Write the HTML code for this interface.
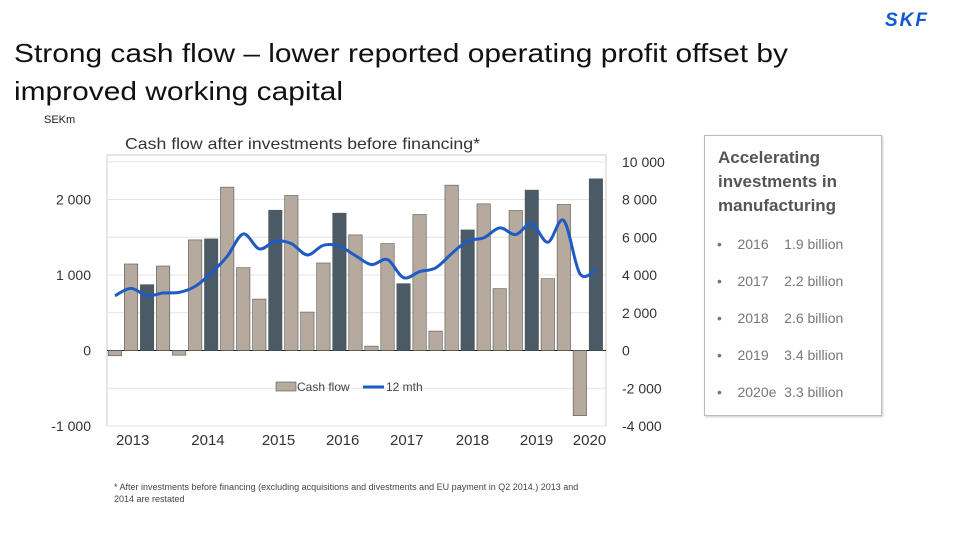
<!DOCTYPE html>
<html><head><meta charset="utf-8">
<style>
body{margin:0;width:960px;height:540px;background:#fff;font-family:"Liberation Sans",sans-serif;overflow:hidden;position:relative}
.t{position:absolute;left:14px;top:34px;font-size:26px;line-height:38px;color:#111;transform:scaleX(1.15);transform-origin:0 0;white-space:nowrap}
.abs{position:absolute}
.box{position:absolute;left:704px;top:135px;width:176px;height:279px;border:1px solid #bbb;box-shadow:1px 1px 2px #ccc}
.box h3{margin:10px 0 0 13px;font-size:17px;line-height:24px;color:#555;font-weight:bold}
.row{position:absolute;left:12px;font-size:14px;color:#777}
</style></head><body>
<div class="t">Strong cash flow – lower reported operating profit offset by<br>improved working capital</div>
<div class="abs" style="left:885px;top:10px;font-size:19px;font-weight:bold;font-style:italic;color:#0f58d6;letter-spacing:2px">SKF</div>
<div class="abs" style="left:44px;top:114px;font-size:11px;color:#222">SEKm</div>
<svg class="abs" style="left:0;top:0" width="700" height="540" id="chart"></svg>
<div class="box">
<h3>Accelerating<br>investments in<br>manufacturing</h3>
<div class="row" style="top:100px">•&nbsp;&nbsp;&nbsp;&nbsp;2016&nbsp;&nbsp;&nbsp;&nbsp;1.9 billion</div>
<div class="row" style="top:137px">•&nbsp;&nbsp;&nbsp;&nbsp;2017&nbsp;&nbsp;&nbsp;&nbsp;2.2 billion</div>
<div class="row" style="top:174px">•&nbsp;&nbsp;&nbsp;&nbsp;2018&nbsp;&nbsp;&nbsp;&nbsp;2.6 billion</div>
<div class="row" style="top:211px">•&nbsp;&nbsp;&nbsp;&nbsp;2019&nbsp;&nbsp;&nbsp;&nbsp;3.4 billion</div>
<div class="row" style="top:248px">•&nbsp;&nbsp;&nbsp;&nbsp;2020e&nbsp;&nbsp;3.3 billion</div>
</div>
<div class="abs" style="left:114px;top:481px;font-size:9px;line-height:12px;color:#444">* After investments before financing (excluding acquisitions and divestments and EU payment in Q2 2014.) 2013 and<br>2014 are restated</div>
<script>
const cashFlow=[-70,1146,872,1119,-62,1465,1478,2164,1097,681,1858,2053,509,1159,1819,1531,58,1416,885,1801,257,2190,1597,1942,819,1854,2124,951,1934,-863,2274];
const rolling12=[2903,3292,2903,3044,3080,3398,4106,4991,6177,5381,5788,5664,5062,5575,5522,5027,4549,4814,3858,4177,4372,5133,5805,5965,6496,6142,6726,5735,6885,4071,4283];
const leftTicks=[-1000,0,1000,2000];
const leftLabels=["-1 000","0","1 000","2 000"];
const rightTicks=[-4000,-2000,0,2000,4000,6000,8000,10000];
const rightLabels=["-4 000","-2 000","0","2 000","4 000","6 000","8 000","10 000"];
const years=["2013","2014","2015","2016","2017","2018","2019","2020"];
const yearIdx=[1.1,5.8,10.2,14.2,18.2,22.3,26.3,29.6];
const svg=document.getElementById('chart');const NS="http://www.w3.org/2000/svg";
const yL=v=>350.5-v*0.0755;const yR=v=>350.5-v*0.0755/4;const xI=i=>115+i*16.03;
function mk(t,a,p){const e=document.createElementNS(NS,t);for(const k in a)e.setAttribute(k,a[k]);(p||svg).appendChild(e);return e;}
let fr=mk('rect',{x:107,y:155,width:499,height:271,fill:'none',stroke:'#ccc'});

rightTicks.forEach((v,i)=>{let g=mk('line',{x1:107,x2:606,y1:yR(v),y2:yR(v),stroke:v===0?'#222':'#e4e4e4','stroke-width':1});

let t=mk('text',{x:622,y:yR(v)+5,'font-size':14,fill:'#333'});t.textContent=rightLabels[i];
});
leftTicks.forEach((v,i)=>{let t=mk('text',{x:91,y:yL(v)+5,'font-size':14,fill:'#333','text-anchor':'end'});t.textContent=leftLabels[i];
});
let tt=mk('text',{x:125,y:149,'font-size':16,fill:'#333',textLength:355,lengthAdjust:'spacingAndGlyphs'});tt.textContent='Cash flow after investments before financing*';

cashFlow.forEach((v,i)=>{const y0=yL(0),y1=yL(v);let r=mk('rect',{x:xI(i)-6.7,y:Math.min(y0,y1),width:13.4,height:Math.abs(y1-y0),fill:(i%4===2)?'#4a5a66':'#b5aa9d',stroke:'#555','stroke-width':0.6});
});
let pts=rolling12.map((v,i)=>[xI(i),yR(v)]);let d='M'+pts[0];
for(let i=0;i<pts.length-1;i++){const p0=pts[i-1]||pts[i],p1=pts[i],p2=pts[i+1],p3=pts[i+2]||p2;
d+=` C${p1[0]+(p2[0]-p0[0])/6},${p1[1]+(p2[1]-p0[1])/6} ${p2[0]-(p3[0]-p1[0])/6},${p2[1]-(p3[1]-p1[1])/6} ${p2[0]},${p2[1]}`;}
let ln=mk('path',{d:d,fill:'none',stroke:'#1f5bc4','stroke-width':3});

years.forEach((y,i)=>{let t=mk('text',{x:xI(yearIdx[i]),y:445,'font-size':15,fill:'#333','text-anchor':'middle'});t.textContent=y;
});
let lg=mk('rect',{x:276,y:382,width:20,height:9,fill:'#b5aa9d',stroke:'#555','stroke-width':0.6});

let l1=mk('text',{x:297,y:391,'font-size':12,fill:'#444'});l1.textContent='Cash flow';

let ll=mk('line',{x1:363,x2:384,y1:387,y2:387,stroke:'#1f5bc4','stroke-width':3});

let l2=mk('text',{x:386,y:391,'font-size':12,fill:'#444'});l2.textContent='12 mth';

</script>
</body></html>
